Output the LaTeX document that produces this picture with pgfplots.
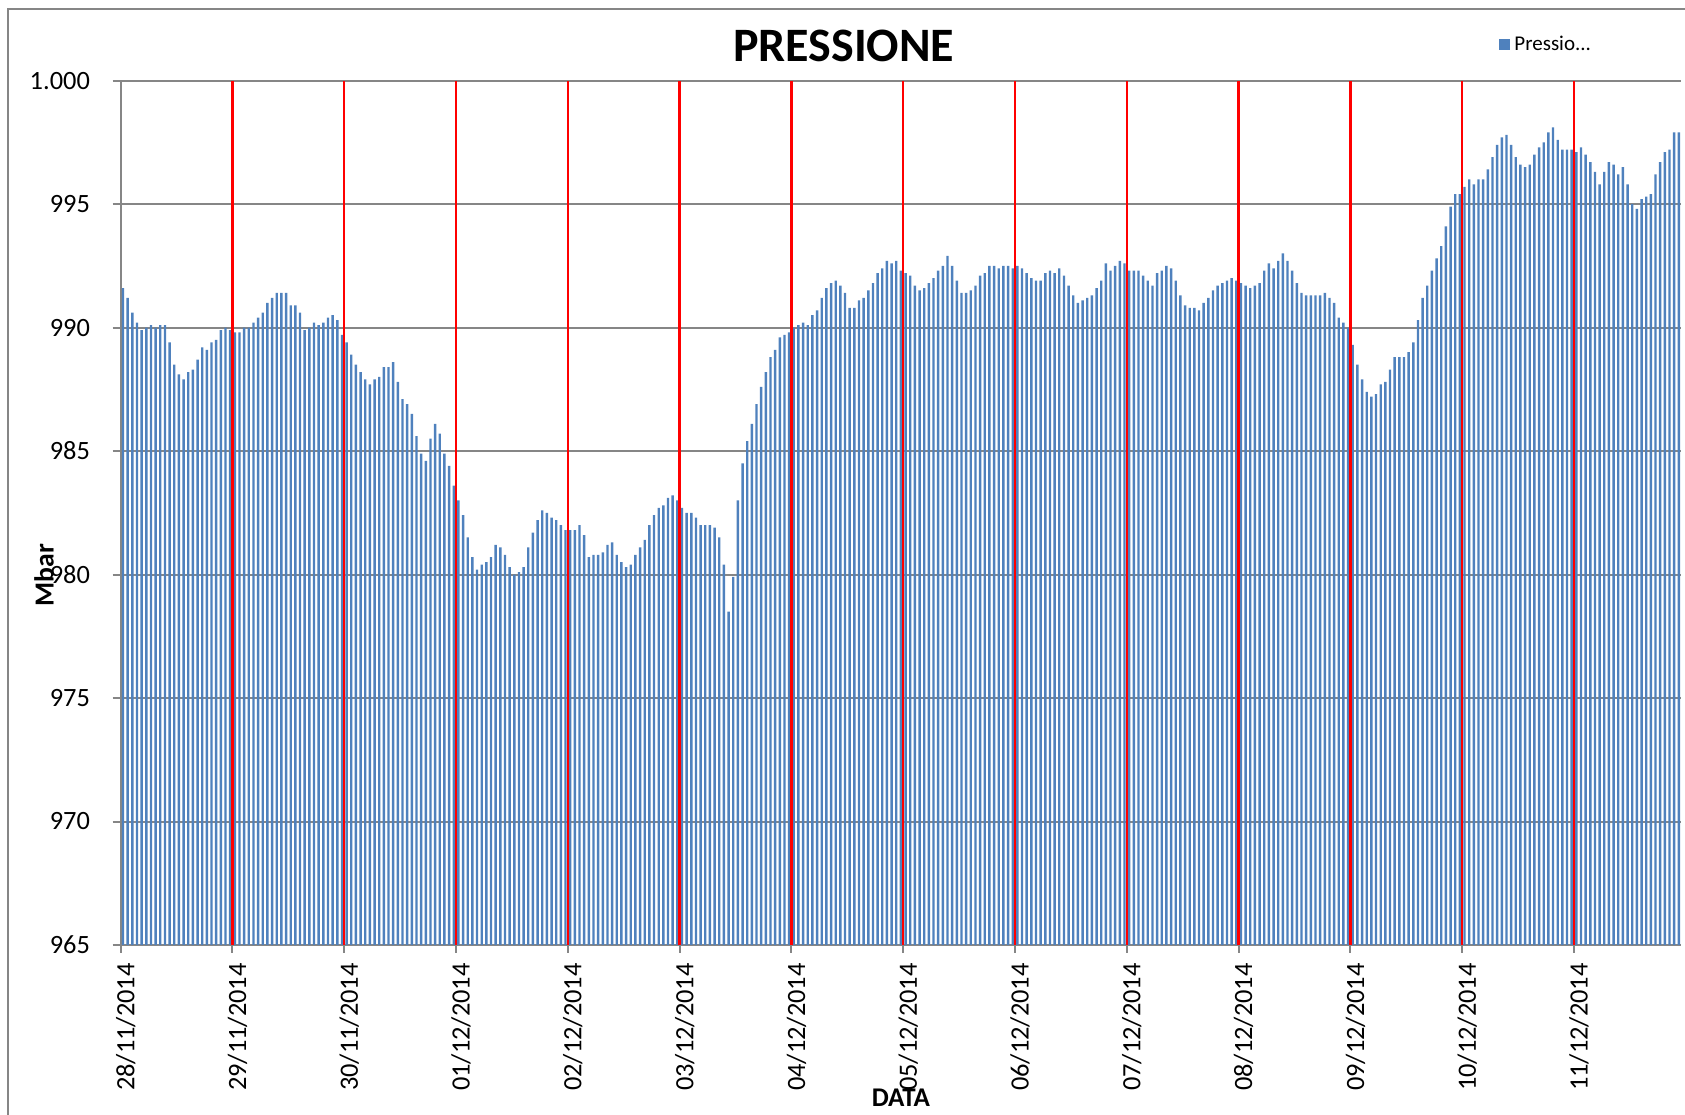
\documentclass[border=0pt]{standalone}
\usepackage{pgfplots}
\pgfplotsset{compat=1.18}
\usepackage{pgfplotstable}
\usepackage{fontspec}
\setmainfont{Carlito}
\definecolor{barblue}{RGB}{79,129,189}
\definecolor{gridgray}{RGB}{134,134,134}
\pgfplotstableread{
p
991.6
991.2
990.6
990.2
989.9
990.0
990.1
990.0
990.1
990.1
989.4
988.5
988.1
987.9
988.2
988.3
988.7
989.2
989.1
989.4
989.5
989.9
990.0
989.9
989.8
989.8
990.0
990.0
990.2
990.4
990.6
991.0
991.2
991.4
991.4
991.4
990.9
990.9
990.6
989.9
990.0
990.2
990.1
990.2
990.4
990.5
990.3
989.7
989.4
988.9
988.5
988.2
987.9
987.7
987.9
988.0
988.4
988.4
988.6
987.8
987.1
986.9
986.5
985.6
984.9
984.6
985.5
986.1
985.7
984.9
984.4
983.6
983.0
982.4
981.5
980.7
980.2
980.4
980.5
980.7
981.2
981.1
980.8
980.3
980.0
980.1
980.3
981.1
981.7
982.2
982.6
982.5
982.3
982.2
982.0
981.8
981.8
981.8
982.0
981.6
980.7
980.8
980.8
980.9
981.2
981.3
980.8
980.5
980.3
980.4
980.8
981.1
981.4
982.0
982.4
982.7
982.8
983.1
983.2
983.0
982.7
982.5
982.5
982.3
982.0
982.0
982.0
981.9
981.5
980.4
978.5
979.9
983.0
984.5
985.4
986.1
986.9
987.6
988.2
988.8
989.1
989.6
989.7
989.8
990.0
990.1
990.2
990.1
990.5
990.7
991.2
991.6
991.8
991.9
991.7
991.4
990.8
990.8
991.1
991.2
991.5
991.8
992.2
992.4
992.7
992.6
992.7
992.3
992.2
992.1
991.7
991.5
991.6
991.8
992.0
992.3
992.5
992.9
992.5
991.9
991.4
991.4
991.5
991.7
992.1
992.2
992.5
992.5
992.4
992.5
992.5
992.4
992.5
992.4
992.2
992.0
991.9
991.9
992.2
992.3
992.2
992.4
992.1
991.7
991.3
991.0
991.1
991.2
991.3
991.6
991.9
992.6
992.3
992.5
992.7
992.6
992.3
992.3
992.3
992.1
991.9
991.7
992.2
992.3
992.5
992.4
991.9
991.3
990.9
990.8
990.8
990.7
991.0
991.2
991.5
991.7
991.8
991.9
992.0
991.9
991.8
991.7
991.6
991.7
991.8
992.3
992.6
992.4
992.7
993.0
992.7
992.3
991.8
991.4
991.3
991.3
991.3
991.3
991.4
991.2
991.0
990.4
990.2
990.0
989.3
988.5
987.9
987.4
987.2
987.3
987.7
987.8
988.3
988.8
988.8
988.8
989.0
989.4
990.3
991.2
991.7
992.3
992.8
993.3
994.1
994.9
995.4
995.4
995.7
996.0
995.8
996.0
996.0
996.4
996.9
997.4
997.7
997.8
997.4
996.9
996.6
996.5
996.6
997.0
997.3
997.5
997.9
998.1
997.6
997.2
997.2
997.2
997.1
997.3
997.0
996.7
996.3
995.8
996.3
996.7
996.6
996.2
996.5
995.8
995.0
994.8
995.2
995.3
995.4
996.2
996.7
997.1
997.2
997.9
997.9
}\pressdata
\begin{document}
\begin{tikzpicture}[x=1bp,y=1bp]
\draw[gridgray, line width=1bp] (4.15,-20) -- (4.15,552.85) -- (900,552.85);
\begin{axis}[
  at={(60.35bp,85bp)}, anchor=south west,
  scale only axis, width=780.2bp, height=432.2bp,
  xmin=0, xmax=335, ymin=965, ymax=1000,
  axis lines*=left,
  axis line style={gridgray, line width=1bp},
  xtick={0,24,...,312},
  xticklabels={28/11/2014,29/11/2014,30/11/2014,01/12/2014,02/12/2014,03/12/2014,04/12/2014,05/12/2014,06/12/2014,07/12/2014,08/12/2014,09/12/2014,10/12/2014,11/12/2014},
  ytick={965,970,...,1000},
  yticklabels={965,970,975,980,985,990,995,1.000},
  ymajorgrids,
  major grid style={gridgray, line width=1bp},
  tick align=outside,
  major tick length=4bp,
  tick style={gridgray, line width=1bp},
  /pgf/number format/assume math mode=true,
  tick label style={font=\fontsize{13.2bp}{15bp}\selectfont, text=black},
  yticklabel style={anchor=east, inner sep=0pt, xshift=-11.2bp},
  xticklabel style={yshift=-5bp, xshift=2.5bp, rotate=90, anchor=east, inner sep=0pt},
  title={PRESSIONE},
  title style={at={(axis description cs:0.4633,1.0397)}, anchor=center, inner sep=0pt, yshift=-6bp, font=\fontsize{24bp}{28bp}\selectfont\bfseries},
  ylabel={Mbar},
  ylabel style={at={(axis description cs:-0.0492,0.428)}, anchor=center, inner sep=0pt, font=\fontsize{13.8bp}{16bp}\selectfont\bfseries},
  xlabel={DATA},
  xlabel style={at={(axis description cs:0.5,-0.177)}, anchor=center, inner sep=0pt, font=\fontsize{13.5bp}{16bp}\selectfont\bfseries},
  legend style={at={(axis description cs:0.8833,1.0412)}, anchor=west, draw=none, fill=none, inner sep=0pt, font=\fontsize{10.5bp}{12bp}\selectfont},
  legend image code/.code={\fill[barblue] (0bp,-2.75bp) rectangle (5.5bp,2.75bp);},
]
\addplot[ybar, bar width=1.2bp, bar shift=0pt, fill=barblue, draw=none] table[x expr=\coordindex+0.5, y=p] {\pressdata};
\addlegendentry{Pressio...}
\addplot[ycomb, red, line width=1.2bp, mark=none, forget plot] coordinates {(24,1000) (48,1000) (72,1000) (96,1000) (120,1000) (144,1000) (168,1000) (192,1000) (216,1000) (240,1000) (264,1000) (288,1000) (312,1000)};
\end{axis}
\pgfresetboundingbox
\path[use as bounding box] (0,0) rectangle (842.5,557.5);
\end{tikzpicture}
\end{document}
